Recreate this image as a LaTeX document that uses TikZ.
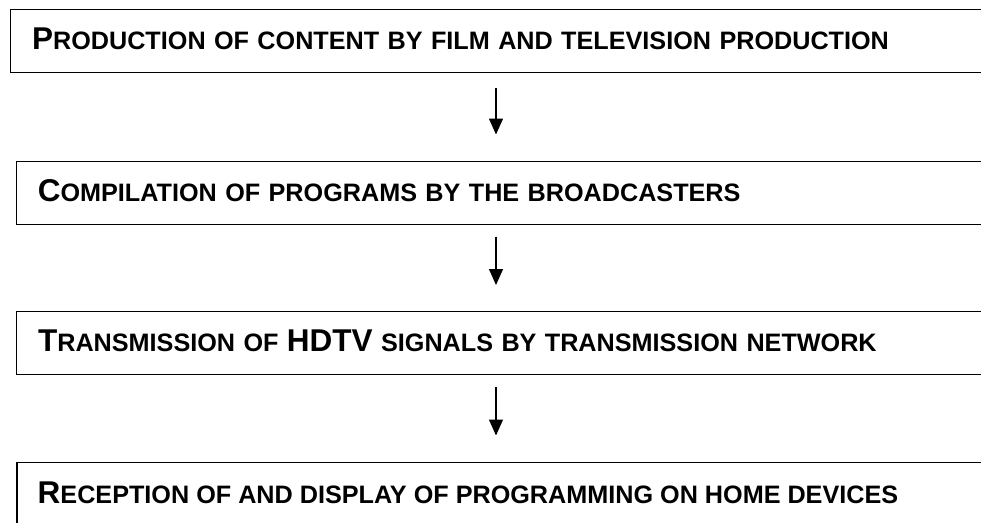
\documentclass[tikz,border=0pt]{standalone}
\usepackage{fontspec}
\setmainfont{Liberation Sans}
\usetikzlibrary{arrows.meta,calc}
\newcommand{\fullcapletter}[1]{{\fontsize{31.5}{36}\selectfont #1}}
\newcommand{\smallcapstext}{\fontsize{25.2}{30}\selectfont\bfseries}
\begin{document}
\begin{tikzpicture}[x=1pt,y=1pt,
  stagebox/.style={draw=black, line width=1.2pt, anchor=north west, minimum height=63pt,
    text width=1000pt, text depth=4pt, inner xsep=21.5pt, inner ysep=0pt, align=left, font=\smallcapstext},
  flowarrow/.style={line width=1.4pt, -{Triangle[length=16pt,width=14pt]}}]
\useasboundingbox (0,0) rectangle (981,-522);
\clip (0,0) rectangle (981,-522);
\node[stagebox] (b1) at (10,-9) {\fullcapletter{P}RODUCTION OF CONTENT BY FILM AND TELEVISION PRODUCTION};
\node[stagebox] (b2) at (15.7,-160.5) {\fullcapletter{C}OMPILATION OF PROGRAMS BY THE BROADCASTERS};
\node[stagebox] (b3) at (16,-311) {\fullcapletter{T}RANSMISSION OF \fullcapletter{HDTV} SIGNALS BY TRANSMISSION NETWORK};
\node[stagebox, minimum height=95pt, anchor=north west] (b4) at (16.3,-461.5) {};
\node[anchor=base west, font=\smallcapstext, inner sep=0pt] (t4) at (37.5,-503) {\fullcapletter{R}ECEPTION OF AND DISPLAY OF PROGRAMMING ON HOME DEVICES};
\coordinate (ax) at (496,0);
\draw[flowarrow] ($(b1.south -| ax)+(0,-15)$) -- ($(b2.north -| ax)+(0,26)$);
\draw[flowarrow] ($(b2.south -| ax)+(0,-12)$) -- ($(b3.north -| ax)+(0,26)$);
\draw[flowarrow] ($(b3.south -| ax)+(0,-12)$) -- ($(b4.north -| ax)+(0,26)$);
\end{tikzpicture}
\end{document}
